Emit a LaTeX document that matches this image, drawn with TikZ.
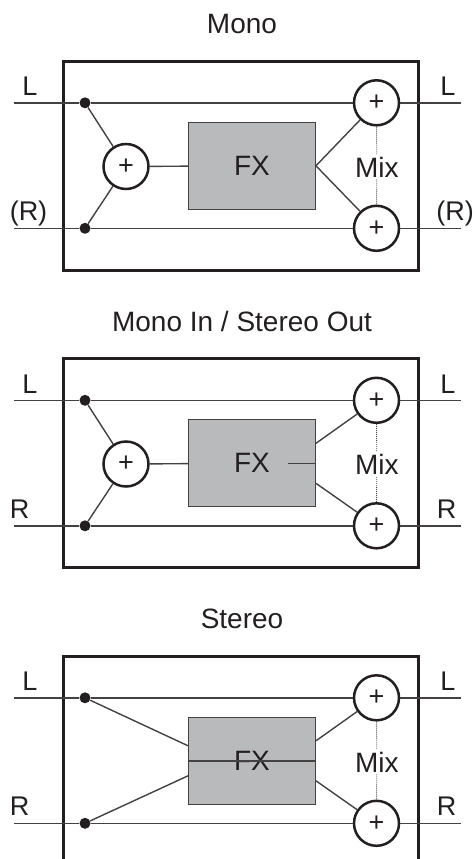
\documentclass[tikz,border=0pt]{standalone}
\usepackage{fontspec}
\setmainfont{Liberation Sans}
\definecolor{ink}{HTML}{231F20}
\definecolor{fxgray}{HTML}{B9BABC}
\tikzset{
  frameline/.style={ink, line width=3pt},
  signal/.style={ink!85, line width=1.4pt},
  mixlink/.style={ink!80, line width=0.9pt, dash pattern=on 1pt off 1pt},
  junction/.style={circle, fill=ink, inner sep=0pt, minimum size=11pt},
  sumnode/.style={circle, draw=ink, fill=white, line width=2.5pt, inner sep=0pt,
                  minimum size=45pt, text=ink, font=\fontsize{27}{30}\selectfont},
  fxbox/.style={draw=ink!85, fill=fxgray, line width=1.3pt, inner sep=0pt,
                minimum width=126.6pt, minimum height=87pt, text=ink,
                font=\fontsize{28}{32}\selectfont},
  mixtext/.style={inner sep=2pt, text=ink, font=\fontsize{28}{32}\selectfont},
  iotext/.style={anchor=base, inner sep=0pt, text=ink, font=\fontsize{27}{30}\selectfont},
  titletext/.style={anchor=base, inner sep=0pt, text=ink, font=\fontsize{28}{30}\selectfont}
}
\begin{document}
\begin{tikzpicture}[x=1pt, y=-1pt]
  \useasboundingbox (0,0) rectangle (475,859);
  \clip (0,0) rectangle (475,859);

  % parts shared by the three panels
  \foreach \n/\t/\y in {mono/{Mono}/0, wide/{Mono In / Stereo Out}/297.5, stereo/{Stereo}/595}
  {
    \begin{scope}[yshift=-\y pt]
      \draw[frameline] (63.5,61.3) rectangle (418,270.3);
      \node[titletext] (\n-title) at (242,33.8) {\t};

      \node[fxbox] (\n-fx) at (252,165.8) {FX};
      \node[junction] (\n-dotL) at (85,102.8) {};
      \node[junction] (\n-dotR) at (85,228.3) {};
      \node[sumnode] (\n-sumL) at (376.5,102.8) {+};
      \node[sumnode] (\n-sumR) at (376.5,228.3) {+};
      \node[mixtext] (\n-mix) at (376.8,167) {Mix};
      \coordinate (\n-inL) at (14,102.8);
      \coordinate (\n-inR) at (14,228.3);
      \coordinate (\n-outL) at (461,102.8);
      \coordinate (\n-outR) at (461,228.3);

      \draw[signal] (\n-inL) -- (\n-dotL) -- (\n-sumL) -- (\n-outL);
      \draw[signal] (\n-inR) -- (\n-dotR) -- (\n-sumR) -- (\n-outR);
      \draw[mixlink] (\n-sumL) -- (\n-mix);
      \draw[mixlink] (\n-mix) -- (\n-sumR);

      \node[iotext] (\n-labL) at (30,95.8) {L};
      \node[iotext] (\n-labLo) at (448,95.8) {L};
    \end{scope}
  }

  % input and output names on the R line
  \node[iotext] (mono-labR) at (28.5,220.5) {(R)};
  \node[iotext] (mono-labRo) at (455,220.5) {(R)};
  \node[iotext] (wide-labR) at (19.5,518) {R};
  \node[iotext] (wide-labRo) at (446.5,518) {R};
  \node[iotext] (stereo-labR) at (19.5,815.5) {R};
  \node[iotext] (stereo-labRo) at (446.5,815.5) {R};

  % mono: one summed input, one output to both sides
  \node[sumnode] (mono-sumIn) at (126,166.5) {+};
  \draw[signal] (mono-dotL) -- (mono-sumIn);
  \draw[signal] (mono-dotR) -- (mono-sumIn);
  \draw[signal] (mono-sumIn) -- (mono-fx);
  \draw[signal] (mono-fx.east) -- (mono-sumL);
  \draw[signal] (mono-fx.east) -- (mono-sumR);

  % mono in, stereo out
  \node[sumnode] (wide-sumIn) at (126,464) {+};
  \coordinate (wide-stub) at ([xshift=-28pt]wide-fx.east);
  \draw[signal] (wide-dotL) -- (wide-sumIn);
  \draw[signal] (wide-dotR) -- (wide-sumIn);
  \draw[signal] (wide-sumIn) -- (wide-fx);
  \draw[signal] (wide-stub) -- (wide-fx.east);
  \draw[signal] ([yshift=20pt]wide-fx.east) -- (wide-sumL);
  \draw[signal] ([yshift=-20pt]wide-fx.east) -- (wide-sumR);

  % stereo
  \draw[signal] (stereo-dotL) -- ([yshift=15pt]stereo-fx.west);
  \draw[signal] (stereo-dotR) -- ([yshift=-15pt]stereo-fx.west);
  \draw[signal] (stereo-fx.west) -- (stereo-fx.east);
  \draw[signal] ([yshift=20pt]stereo-fx.east) -- (stereo-sumL);
  \draw[signal] ([yshift=-20pt]stereo-fx.east) -- (stereo-sumR);
\end{tikzpicture}
\end{document}
